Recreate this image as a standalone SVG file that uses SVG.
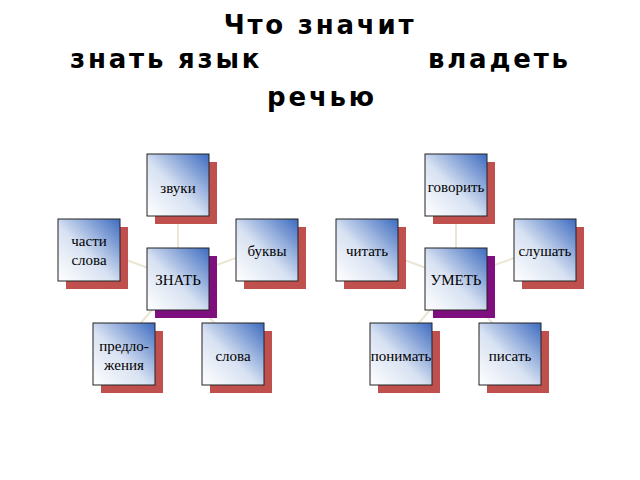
<svg xmlns="http://www.w3.org/2000/svg" width="640" height="480" viewBox="0 0 640 480">
<defs>
<linearGradient id="g" x1="0" y1="1" x2="1" y2="0">
<stop offset="0" stop-color="#ffffff"/><stop offset="0.45" stop-color="#d8e2f2"/><stop offset="1" stop-color="#3d6bc0"/>
</linearGradient>
<style>
.b{fill:url(#g);stroke:#222;stroke-width:1}
.s{fill:#c0504d}
.p{fill:#7f0f7f}
.t{font-family:"Liberation Serif",serif;font-size:15px;fill:#000;text-anchor:middle}
.h{font-family:"DejaVu Sans",sans-serif;font-weight:bold;font-size:26px;fill:#000;letter-spacing:2.8px}
.c line{stroke:#ebe6d2;stroke-width:2}
</style>
</defs>
<rect width="640" height="480" fill="#fff"/>
<text class="h" x="320" y="34" text-anchor="middle">Что значит</text>
<text class="h" x="70" y="68">знать язык</text>
<text class="h" x="428" y="68">владеть</text>
<text class="h" x="322" y="106" text-anchor="middle">речью</text>
<g class="c">
<line x1="178" y1="279" x2="178" y2="216"/><line x1="178" y1="279" x2="121" y2="258"/><line x1="178" y1="279" x2="236" y2="258"/><line x1="178" y1="279" x2="135" y2="330"/><line x1="178" y1="279" x2="220" y2="330"/>
<line x1="456" y1="279" x2="456" y2="216"/><line x1="456" y1="279" x2="399" y2="258"/><line x1="456" y1="279" x2="514" y2="258"/><line x1="456" y1="279" x2="413" y2="330"/><line x1="456" y1="279" x2="498" y2="330"/>
</g>
<g id="zvuki"><rect class="s" x="155" y="162" width="62" height="62"/><rect class="b" x="147" y="154" width="62" height="62"/><text class="t" x="178" y="193">звуки</text></g>
<g id="chasti"><rect class="s" x="66" y="227" width="62" height="62"/><rect class="b" x="58" y="219" width="62" height="62"/><text class="t" x="89" y="246">части</text><text class="t" x="89" y="265">слова</text></g>
<g id="bukvy"><rect class="s" x="244" y="227" width="62" height="62"/><rect class="b" x="236" y="219" width="62" height="62"/><text class="t" x="267" y="256">буквы</text></g>
<g id="znat"><rect class="p" x="155" y="256" width="62" height="62"/><rect class="b" x="147" y="248" width="62" height="62"/><text class="t" x="178" y="285">ЗНАТЬ</text></g>
<g id="predl"><rect class="s" x="101" y="331" width="62" height="62"/><rect class="b" x="93" y="323" width="62" height="62"/><text class="t" x="124" y="351">предло-</text><text class="t" x="124" y="370">жения</text></g>
<g id="slova"><rect class="s" x="210" y="331" width="62" height="62"/><rect class="b" x="202" y="323" width="62" height="62"/><text class="t" x="233" y="361">слова</text></g>
<g id="govorit"><rect class="s" x="433" y="162" width="62" height="62"/><rect class="b" x="425" y="154" width="62" height="62"/><text class="t" x="456" y="192">говорить</text></g>
<g id="chitat"><rect class="s" x="344" y="227" width="62" height="62"/><rect class="b" x="336" y="219" width="62" height="62"/><text class="t" x="367" y="256">читать</text></g>
<g id="slushat"><rect class="s" x="522" y="227" width="62" height="62"/><rect class="b" x="514" y="219" width="62" height="62"/><text class="t" x="545" y="256">слушать</text></g>
<g id="umet"><rect class="p" x="433" y="256" width="62" height="62"/><rect class="b" x="425" y="248" width="62" height="62"/><text class="t" x="456" y="285">УМЕТЬ</text></g>
<g id="ponimat"><rect class="s" x="378" y="331" width="62" height="62"/><rect class="b" x="370" y="323" width="62" height="62"/><text class="t" x="401" y="361">понимать</text></g>
<g id="pisat"><rect class="s" x="487" y="331" width="62" height="62"/><rect class="b" x="479" y="323" width="62" height="62"/><text class="t" x="510" y="361">писать</text></g>
</svg>
